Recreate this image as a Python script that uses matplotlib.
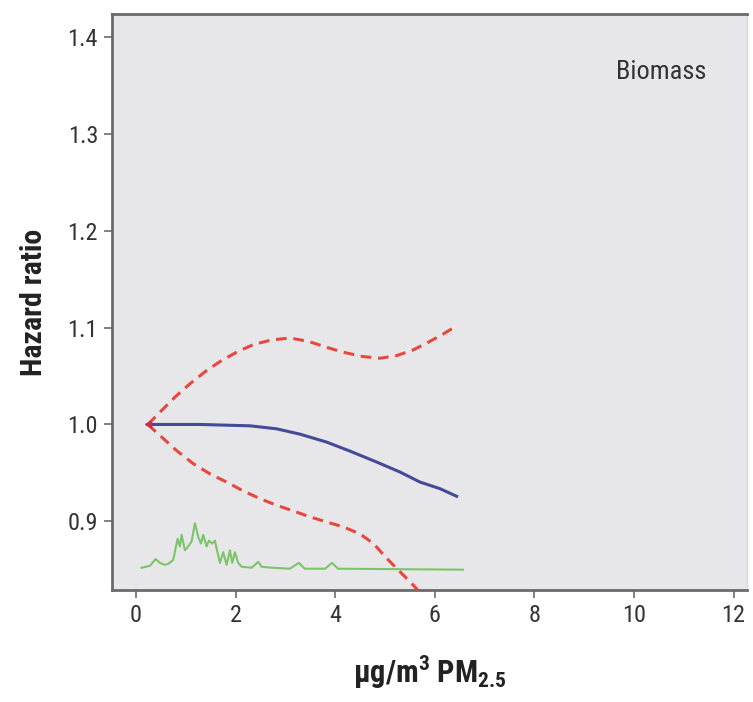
import matplotlib
matplotlib.use("Agg")
import matplotlib.pyplot as plt
from matplotlib import font_manager

# ---- data ----
hr_x = [0.24, 1.285, 2.289, 2.825, 3.293, 3.829, 4.297, 4.833, 5.301, 5.703, 6.104, 6.44]
hr_y = [1.000, 1.000, 0.9986, 0.9955, 0.990, 0.9818, 0.9725, 0.9612, 0.9509, 0.9405, 0.9337, 0.9258]

up_x = [0.24, 0.516, 0.783, 1.084, 1.419, 1.720, 2.021, 2.356, 2.724, 3.092, 3.460,
        3.829, 4.163, 4.565, 4.900, 5.235, 5.568, 5.870, 6.171, 6.372]
up_y = [1.000, 1.0144, 1.0282, 1.042, 1.0557, 1.066, 1.0746, 1.0825, 1.0873, 1.0893, 1.0859,
        1.0797, 1.0746, 1.0701, 1.0684, 1.0711, 1.077, 1.0849, 1.0935, 1.0997]

lo_x = [0.24, 0.516, 0.817, 1.151, 1.486, 1.821, 2.155, 2.490, 2.825, 3.159, 3.494,
        3.829, 4.163, 4.498, 4.77, 5.03, 5.30, 5.57, 5.85]
lo_y = [1.000, 0.987, 0.973, 0.9595, 0.949, 0.9405, 0.9313, 0.9234, 0.9165, 0.9107, 0.9045,
        0.8993, 0.8942, 0.887, 0.877, 0.862, 0.848, 0.834, 0.818]

den_x = [0.114, 0.281, 0.396, 0.482, 0.582, 0.649, 0.749, 0.837, 0.884, 0.918, 0.984,
         1.050, 1.118, 1.185, 1.251, 1.305, 1.351, 1.420, 1.466, 1.532, 1.586, 1.641,
         1.687, 1.753, 1.821, 1.888, 1.934, 1.988, 2.054, 2.122, 2.323, 2.456, 2.524,
         2.725, 3.09, 3.273, 3.39, 3.80, 3.936, 4.06, 6.566]
den_y = [0.852, 0.854, 0.861, 0.857, 0.855, 0.856, 0.860, 0.882, 0.874, 0.886, 0.870,
         0.874, 0.879, 0.898, 0.884, 0.877, 0.886, 0.874, 0.880, 0.877, 0.880, 0.867,
         0.857, 0.868, 0.855, 0.870, 0.857, 0.868, 0.857, 0.853, 0.852, 0.858, 0.853,
         0.852, 0.851, 0.857, 0.851, 0.851, 0.857, 0.851, 0.850]

x_ticks = [0, 2, 4, 6, 8, 10, 12]
y_ticks = [0.9, 1.0, 1.1, 1.2, 1.3, 1.4]
y_tick_labels = ["0.9", "1.0", "1.1", "1.2", "1.3", "1.4"]

# ---- style ----
installed = {f.name for f in font_manager.fontManager.ttflist}
main_font = "Roboto Condensed" if "Roboto Condensed" in installed else "Roboto"
FONT = [main_font, "DejaVu Sans"]
plt.rcParams["font.family"] = FONT
plt.rcParams["mathtext.fontset"] = "custom"
plt.rcParams["mathtext.rm"] = main_font + ":bold"
plt.rcParams["mathtext.bf"] = main_font + ":bold"
plt.rcParams["mathtext.default"] = "bf"

fig = plt.figure(figsize=(7.53, 7.02), dpi=100)
ax = fig.add_axes([112/753, 1 - 590/702, (747 - 112)/753, (590 - 14)/702])
ax.set_facecolor("#e7e7e9")

ax.plot(den_x, den_y, color="#7cc46a", lw=1.5, zorder=2)
ax.plot(lo_x, lo_y, color="#e8473f", lw=2.2, ls=(0, (3.5, 2.2)), zorder=3)
ax.plot(up_x, up_y, color="#e8473f", lw=2.2, ls=(0, (3.5, 2.2)), zorder=3)
ax.plot(hr_x, hr_y, color="#434a98", lw=2.2, zorder=4)
ax.plot([hr_x[0]], [hr_y[0]], marker="<", color="#c0304a", ms=5, zorder=5)

ax.set_xlim(-0.48, 12.27)
ax.set_ylim(0.829, 1.424)
ax.set_xticks(x_ticks)
ax.set_yticks(y_ticks)
ax.set_yticklabels(y_tick_labels)

for side in ["left", "top", "bottom"]:
    ax.spines[side].set_color("#6a6a6a")
    ax.spines[side].set_linewidth(2)
ax.spines["right"].set_color("#d8d8d8")
ax.spines["right"].set_linewidth(1)

ax.tick_params(axis="both", direction="out", length=6, width=1.3, color="#777777",
               labelsize=17.5, labelcolor="#333333", pad=4)

ax.set_ylabel("Hazard ratio", fontsize=21.5, fontweight="bold", color="#222222", labelpad=14)
ax.set_xlabel(r"μg/m$^{3}$ PM$_{2.5}$", fontsize=22, fontweight="bold", color="#222222", labelpad=19)

ax.text(0.865, 0.9, "Biomass", transform=ax.transAxes, fontsize=19, color="#333333",
        ha="center", va="center")

fig.savefig("out.png", dpi=100)
